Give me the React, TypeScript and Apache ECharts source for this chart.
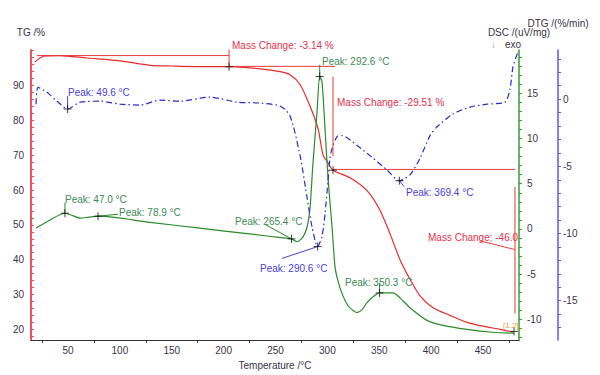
import React, { useEffect, useRef } from "react";
import * as echarts from "echarts";

// Temperature (°C) vs TG (%)
const tgData: [number, number][] = [
  [18.2, 96.8], [23, 97.9], [27.8, 98.5], [42, 98.6], [68.3, 97.9], [100, 97.1],
  [129, 95.8], [150, 95.6], [184, 95.4], [205.2, 95.4], [235, 94.8], [254.3, 94.0],
  [264, 93.1], [273.6, 90.3], [283.2, 84.1], [291, 77.6], [295.8, 70.0], [299.6, 68.3],
  [305.4, 65.7], [321.8, 63.5], [338.2, 59.8], [350.7, 54.2], [360.4, 47.4], [370, 40.0],
  [379.6, 34.4], [389.3, 29.6], [401.8, 26.2], [418.2, 24.0], [434.6, 22.0], [450, 20.9],
  [466.4, 20.0], [478.9, 19.2],
];

// Temperature (°C) vs DSC (uV/mg)
const dscData: [number, number][] = [
  [19.2, 0.1], [32.6, 1.0], [47.0, 1.74], [55, 1.45], [61.6, 1.2], [70, 1.3], [78.9, 1.41],
  [129, 0.74], [177, 0.09], [225, -0.55], [255, -0.95], [265.4, -1.09], [270.7, -1.41],
  [276.5, -0.87], [280.4, 0.22], [283.3, 2.39], [286.1, 7.28], [290, 12.93], [292.6, 16.85],
  [294.8, 16.3], [297.7, 11.09], [300.6, 5.65], [304.5, 0.22], [307.3, -4.13], [310.2, -5.76],
  [315, -7.39], [319.9, -8.48], [324.7, -9.02], [328.6, -9.24], [333.4, -8.91], [338.2, -8.15],
  [344, -7.5], [350.3, -7.07], [357.5, -7.07], [363.3, -7.07], [370, -7.61], [379.6, -8.7],
  [396, -10.1], [411.4, -10.65], [434.6, -11.09], [459.6, -11.41], [479.9, -11.52],
];

// Temperature (°C) vs DTG (%/min)
const dtgData: [number, number][] = [
  [19.2, -0.37], [21.1, 0.88], [29.8, 0.51], [39.4, -0.15], [49.6, -0.73], [61.6, -0.22],
  [80.8, -0.15], [100.1, -0.37], [119.4, -0.44], [138.7, -0.07], [158, -0.15], [186.9, 0.15],
  [212.9, -0.22], [235, -0.29], [254.3, -0.51], [263.9, -1.24], [273.6, -4.17], [280.4, -7.32],
  [285.2, -9.51], [290.6, -10.97], [294.8, -10.2], [297.7, -8.56], [300.6, -6.07], [302.5, -4.39],
  [304.5, -3.66], [309.3, -2.78], [314.1, -2.71], [328.6, -3.44], [344, -4.39], [357.5, -5.27],
  [369.4, -6.07], [379.6, -5.63], [389.3, -4.39], [398.9, -2.71], [405.7, -2.05], [421.1, -1.1],
  [437.5, -0.59], [453.9, -0.37], [471.2, -0.22], [476, 0.73], [478.9, 2.41], [483.7, 3.51],
];

// Mass-change construction lines (TG units)
const massLines: [number, number][][] = [
  [[20, 98.6], [205.2, 98.6]],
  [[205.2, 100.6], [205.2, 95.2]],
  [[205.2, 95.5], [307.4, 95.5]],
  [[305.4, 92.5], [305.4, 69.7]],
  [[305.4, 65.9], [480.8, 65.9]],
  [[480.8, 60.9], [480.8, 24.5]],
  [[447.1, 45.4], [480.8, 42.9]],
];
// Peak leader lines
const dscLeaders: [number, number][][] = [
  [[47.0, 1.74], [47.0, 2.93]],
  [[78.9, 1.41], [98.2, 1.63]],
  [[239.9, 0.5], [265.4, -1.09]],
  [[292.6, 16.85], [292.6, 18.15]],
  [[350.3, -7.07], [350.3, -5.98]],
];
const dtgLeaders: [number, number][][] = [
  [[49.6, -0.73], [49.6, 0.22]],
  [[256.3, -11.85], [290.6, -10.97]],
  [[369.4, -6.07], [374, -6.5]],
];
// Cross markers
const tgMarks: [number, number][] = [[205.2, 95.4], [305.4, 65.7], [479.9, 19.4]];
const dscMarks: [number, number][] = [[47.0, 1.74], [78.9, 1.41], [265.4, -1.09], [292.6, 16.85], [350.3, -7.07]];
const dtgMarks: [number, number][] = [[49.6, -0.73], [290.6, -10.97], [369.4, -6.07]];

// Tick positions / labels
const xLabels = [50, 100, 150, 200, 250, 300, 350, 400, 450];
const xTicks = [25, 75, 125, 175, 225, 275, 325, 375, 425, 475];
const tgLabels = [20, 30, 40, 50, 60, 70, 80, 90];
const tgTicks = [18, 20, 22, 24, 26, 28, 30, 32, 34, 36, 38, 40, 42, 44, 46, 48, 50, 52, 54, 56, 58, 60, 62, 64, 66, 68, 70, 72, 74, 76, 78, 80, 82, 84, 86, 88, 90, 92, 94, 96, 98, 100];
const dscLabels = [-10, -5, 0, 5, 10, 15];
const dscTicks = [-12, -11, -10, -9, -8, -7, -6, -5, -4, -3, -2, -1, 0, 1, 2, 3, 4, 5, 6, 7, 8, 9, 10, 11, 12, 13, 14, 15, 16, 17, 18, 19];
const dtgLabels = [-15, -10, -5, 0];
const dtgTicks = [-17, -16, -15, -14, -13, -12, -11, -10, -9, -8, -7, -6, -5, -4, -3, -2, -1, 0, 1, 2, 3];

const FONT = "'Liberation Sans', Arial, sans-serif";
const TXT = "#3a3346";
const RED = "#e82a2a";
const RED_T = "#e8304c";
const GREEN = "#2b8a2b";
const GREEN_T = "#3d8a55";
const BLUE = "#2a2ad0";
const BLUE_T = "#4a40dc";

function segSeries(segs: [number, number][][], yAxisIndex: number, color: string, width = 1) {
  return segs.map((s) => ({
    type: "line",
    yAxisIndex,
    data: s,
    showSymbol: false,
    symbol: "none",
    silent: true,
    lineStyle: { color, width },
    z: 4,
  }));
}

function crossSeries(pts: [number, number][], yAxisIndex: number) {
  return {
    type: "scatter",
    yAxisIndex,
    data: pts,
    symbol: "path://M0,5L10,5M5,0L5,10",
    symbolSize: 8,
    silent: true,
    itemStyle: { color: "rgba(0,0,0,0)", borderColor: "#111", borderWidth: 1 },
    z: 6,
  };
}

function label(text: string, x: number, y: number, fill: string) {
  return {
    type: "text",
    x,
    y,
    style: { text, fill, font: `10px ${FONT}`, verticalAlign: "middle", align: "left" },
    z: 10,
  };
}

export default function App() {
  const ref = useRef<HTMLDivElement>(null);
  useEffect(() => {
    if (!ref.current) return;
    const chart = echarts.init(ref.current, undefined, { renderer: "svg" });
    const yAxisBase = (color: string, width: number) => ({
      type: "value",
      splitLine: { show: false },
      axisLine: { show: true, onZero: false, lineStyle: { color, width } },
      axisLabel: { color: TXT, fontSize: 10, fontFamily: FONT },
      nameTextStyle: { color: TXT, fontSize: 10, fontFamily: FONT },
    });
    chart.setOption({
      animation: false,
      backgroundColor: "#ffffff",
      textStyle: { fontFamily: FONT },
      grid: { left: 31, right: 81, top: 50, bottom: 30, containLabel: false },
      xAxis: {
        type: "value",
        min: 14.3,
        max: 484.7,
        name: "Temperature /°C",
        nameLocation: "middle",
        nameGap: 14,
        nameTextStyle: { color: TXT, fontSize: 10, fontFamily: FONT },
        splitLine: { show: false },
        axisLine: { onZero: false, lineStyle: { color: "#333", width: 1 } },
        axisTick: { show: true, length: 3, customValues: xTicks, lineStyle: { color: "#333" } },
        axisLabel: { color: TXT, fontSize: 10, fontFamily: FONT, margin: 5, customValues: xLabels },
      },
      yAxis: [
        {
          ...yAxisBase("#f0505c", 2),
          position: "left",
          min: 16.9,
          max: 100.2,
          name: "TG /%",
          nameGap: 13,
          axisTick: { show: true, inside: true, length: 3, customValues: tgTicks, lineStyle: { color: "#f0505c" } },
          axisLabel: { color: TXT, fontSize: 10, fontFamily: FONT, margin: 7, customValues: tgLabels },
        },
        {
          ...yAxisBase("#3a9c3a", 1.5),
          position: "right",
          offset: 0,
          min: -12.28,
          max: 19.78,
          name: "DSC /(uV/mg)",
          nameGap: 13,
          axisTick: { show: true, length: 3, customValues: dscTicks, lineStyle: { color: "#3a9c3a" } },
          axisLabel: { color: TXT, fontSize: 10, fontFamily: FONT, margin: 8, customValues: dscLabels },
        },
        {
          ...yAxisBase("#5a5af0", 1.5),
          position: "right",
          offset: 39,
          min: -17.93,
          max: 3.66,
          name: "DTG /(%/min)",
          nameGap: 22,
          axisTick: { show: true, length: 3, customValues: dtgTicks, lineStyle: { color: "#5a5af0" } },
          axisLabel: { color: TXT, fontSize: 10, fontFamily: FONT, margin: 5, customValues: dtgLabels },
        },
      ],
      series: [
        {
          type: "line",
          name: "TG",
          yAxisIndex: 0,
          data: tgData,
          showSymbol: false,
          smooth: 0.25,
          lineStyle: { color: RED, width: 1.2 },
          z: 3,
        },
        {
          type: "line",
          name: "DSC",
          yAxisIndex: 1,
          data: dscData,
          showSymbol: false,
          smooth: 0.25,
          lineStyle: { color: GREEN, width: 1.2 },
          z: 3,
        },
        {
          type: "line",
          name: "DTG",
          yAxisIndex: 2,
          data: dtgData,
          showSymbol: false,
          smooth: 0.25,
          lineStyle: { color: BLUE, width: 1.2, type: [6, 3, 1.5, 3] },
          z: 3,
        },
        ...segSeries(massLines, 0, "#e83a3a", 1),
        ...segSeries(dscLeaders, 1, GREEN, 1),
        ...segSeries(dtgLeaders, 2, "#4a40dc", 1),
        crossSeries(tgMarks, 0),
        crossSeries(dscMarks, 1),
        crossSeries(dtgMarks, 2),
      ],
      graphic: [
        label("Peak: 49.6 °C", 68, 92, BLUE_T),
        label("Peak: 47.0 °C", 65, 199, GREEN_T),
        label("Peak: 78.9 °C", 119, 212, GREEN_T),
        label("Peak: 265.4 °C", 235, 221, GREEN_T),
        label("Peak: 290.6 °C", 260, 268, BLUE_T),
        label("Peak: 292.6 °C", 322, 61, GREEN_T),
        label("Peak: 350.3 °C", 345, 282, GREEN_T),
        label("Peak: 369.4 °C", 406, 192, BLUE_T),
        label("Mass Change: -3.14 %", 232, 45, RED_T),
        label("Mass Change: -29.51 %", 337, 102, RED_T),
        label("Mass Change: -46.0", 428, 237, RED_T),
        label("↓", 491, 44, "#b8a888"),
        label("exo", 505, 44, TXT),
        {
          type: "text",
          x: 503,
          y: 325,
          style: { text: "[1.2]", fill: "#e0a040", font: `8px ${FONT}`, verticalAlign: "middle" },
          z: 10,
        },
      ],
    });
    return () => chart.dispose();
  }, []);
  return (
    <div
      ref={ref}
      style={{ position: "fixed", left: 0, top: 0, width: 600, height: 375, background: "#fff" }}
    />
  );
}
